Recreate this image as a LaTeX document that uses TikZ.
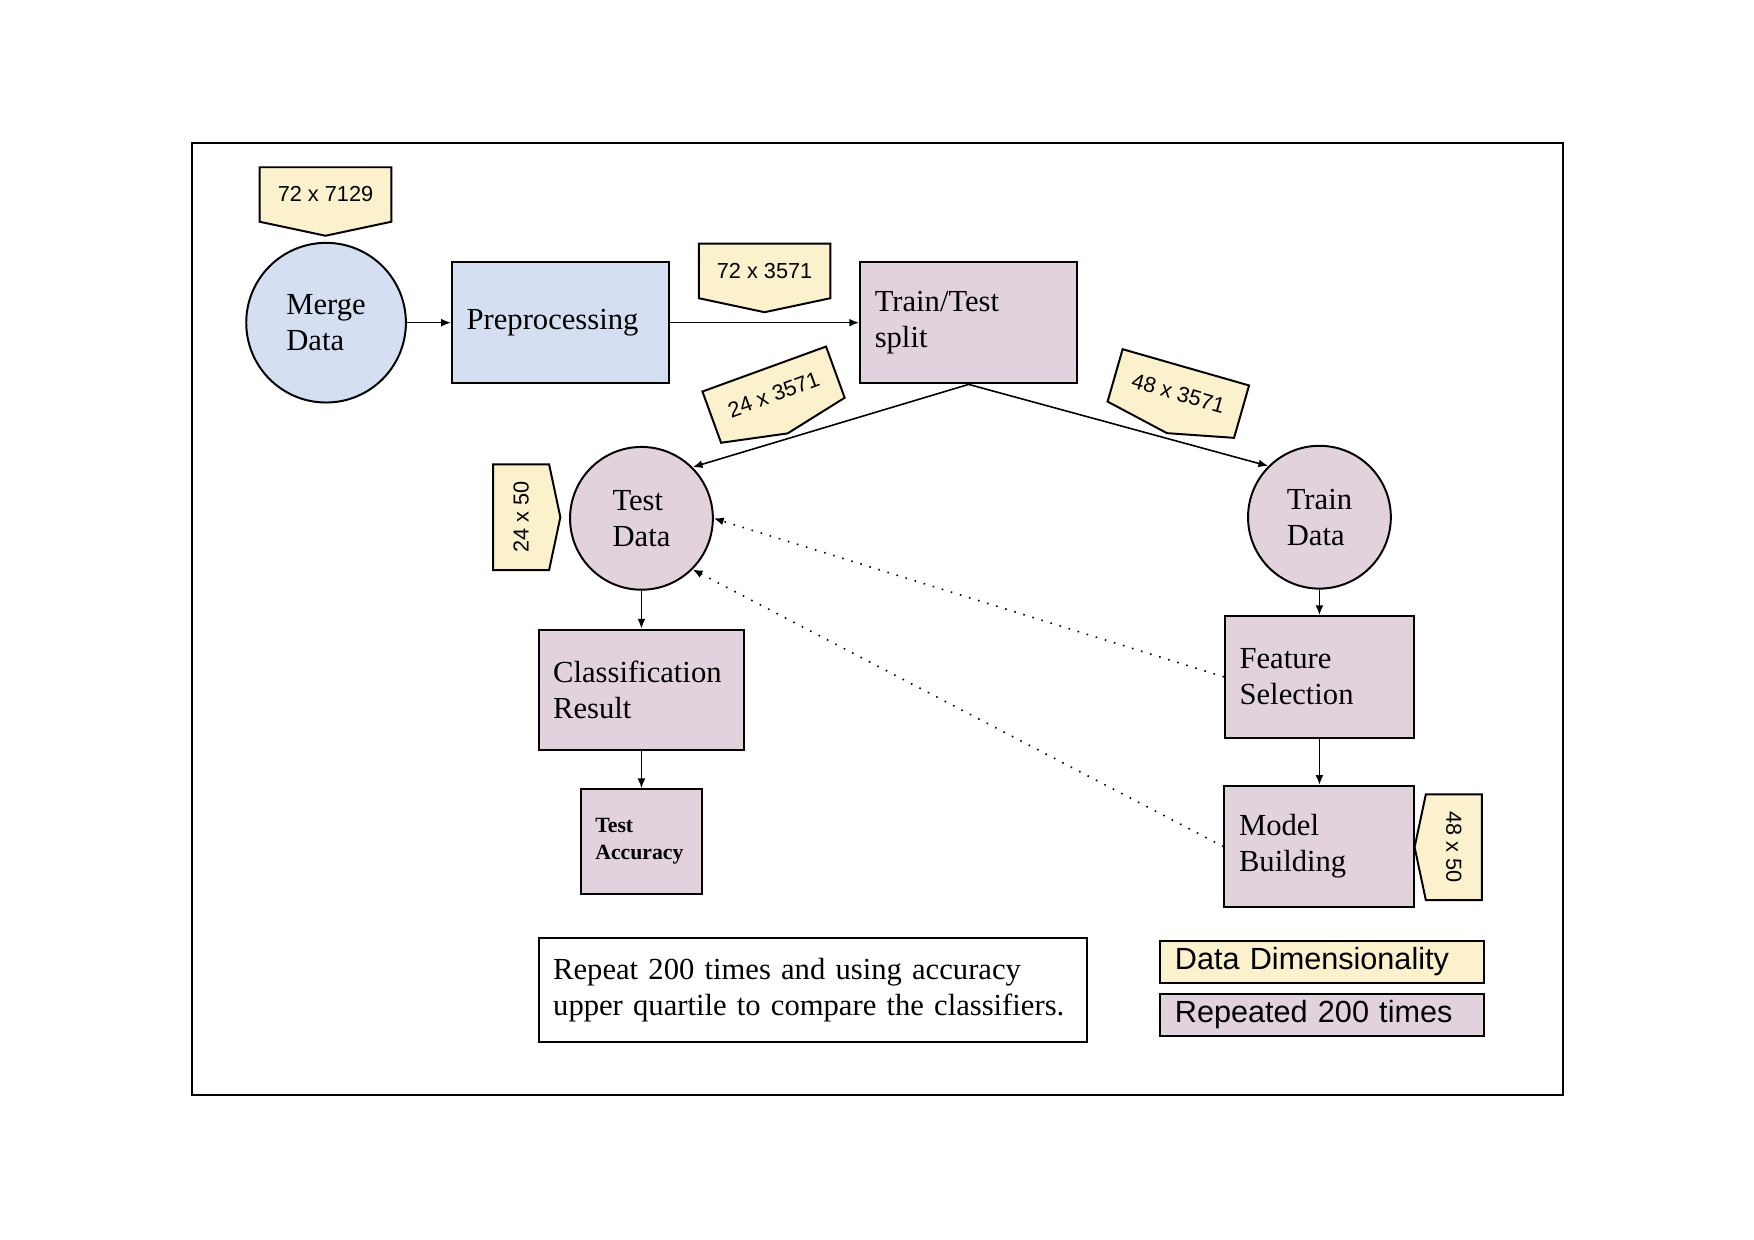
\documentclass[tikz,border=0pt]{standalone}
\usepackage{fontspec}
\setmainfont{Liberation Serif}
\setsansfont{Liberation Sans}
\usepackage{tikz}
\usepackage{xcolor}
\usetikzlibrary{arrows.meta,shapes.symbols}

\definecolor{prepblue}{HTML}{D4E0F1}
\definecolor{looppink}{HTML}{E2D2DD}
\definecolor{dimyellow}{HTML}{FBF1CC}

\begin{document}
\begin{tikzpicture}[x=0.1mm,y=-0.1mm,
	every node/.style={font=\fontsize{7.75}{9.1}\selectfont},
	stepnode/.style={draw,line width=0.5pt,inner xsep=1.3mm,inner ysep=0pt,align=left},
	datanode/.style={circle,draw,line width=0.5pt,inner sep=0pt,align=left},
	dimtag/.style={signal,signal to=south,signal pointer angle=156,draw,line width=0.5pt,
		fill=dimyellow,inner sep=0pt,font=\sffamily\fontsize{5.5}{6.6}\selectfont},
	legendbox/.style={draw,line width=0.5pt,inner xsep=1.3mm,inner ysep=0pt,align=left,
		text width=2.62cm,minimum height=0.37cm,font=\sffamily\fontsize{7.75}{9.1}\selectfont},
	flow/.style={-{Latex[length=2.5pt,width=2pt]},line width=0.4pt},
	back/.style={flow,dotted}]
	\useasboundingbox (0,0) rectangle (1560,1102);
	\draw[line width=0.5pt] (171,127) rectangle (1390,974);

	% first stage
	\node[datanode,fill=prepblue,minimum size=1.42cm] (merge) at (290,287) {Merge\\Data};
	\node[stepnode,fill=prepblue,text width=1.67cm,minimum height=1.08cm] (prep) at (498.5,287) {Preprocessing};
	\node[stepnode,fill=looppink,text width=1.67cm,minimum height=1.08cm] (split) at (861.5,287) {Train/Test\\split};

	% test side
	\node[datanode,fill=looppink,minimum size=1.27cm] (test) at (570.5,461) {Test\\Data};
	\node[stepnode,fill=looppink,text width=1.57cm,minimum height=1.07cm] (classify) at (570.5,613.5) {Classification\\Result};
	\node[stepnode,fill=looppink,text width=0.82cm,minimum height=0.93cm,
		font=\bfseries\fontsize{5.5}{6.8}\selectfont] (accuracy) at (570.5,748.5) {Test\\Accuracy};

	% train side
	\node[datanode,fill=looppink,minimum size=1.27cm] (train) at (1173.5,460) {Train\\Data};
	\node[stepnode,fill=looppink,text width=1.42cm,minimum height=1.08cm] (feature) at (1173.5,602) {Feature\\Selection};
	\node[stepnode,fill=looppink,text width=1.43cm,minimum height=1.08cm] (model) at (1173.5,753) {Model\\Building};

	% data sizes
	\node[dimtag,minimum width=1.17cm,minimum height=0.575cm] (tagmerge) at (289.5,173) {72 x 7129};
	\node[dimtag,minimum width=1.17cm,minimum height=0.575cm] (tagprep) at (680,241) {72 x 3571};
	\node[dimtag,minimum width=1.17cm,minimum height=0.575cm,rotate=20] (tagtest) at (688,351) {24 x 3571};
	\node[dimtag,minimum width=1.17cm,minimum height=0.575cm,rotate=-16] (tagtrain) at (1048,350) {48 x 3571};
	\node[dimtag,minimum width=0.94cm,minimum height=0.565cm,rotate=90] (tagtestfs) at (463.5,460) {24 x 50};
	\node[dimtag,minimum width=0.94cm,minimum height=0.565cm,rotate=-90] (tagtrainfs) at (1293,753.5) {48 x 50};

	\draw[flow] (merge) -- (prep);
	\draw[flow] (prep) -- (split);
	\draw[flow] (split.south) -- (test.45);
	\draw[flow] (split.south) -- (train.135);
	\draw[flow] (test) -- (classify);
	\draw[flow] (classify) -- (accuracy);
	\draw[flow] (train) -- (feature);
	\draw[flow] (feature) -- (model);
	\draw[back] (feature.west) -- (test.east);
	\draw[back] (model.west) -- (test.-45);

	% notes and legend
	\node[stepnode,text width=4.62cm,minimum height=0.93cm] (note) at (723,880.5) {Repeat 200 times and using accuracy\\upper quartile to compare the classifiers.};
	\node[legendbox,fill=dimyellow] (keydim) at (1176,855.5) {Data Dimensionality};
	\node[legendbox,fill=looppink] (keyloop) at (1176,902.5) {Repeated 200 times};
\end{tikzpicture}
\end{document}
